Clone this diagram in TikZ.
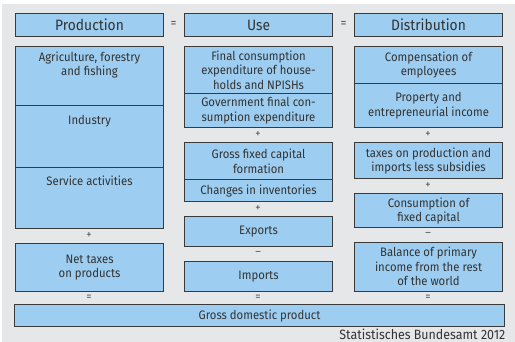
\documentclass[tikz,border=0pt]{standalone}
\usepackage{fontspec}
\setmainfont{Fira Sans}[FakeStretch=0.92]
\definecolor{bg}{HTML}{E6E7E8}
\definecolor{boxfill}{HTML}{9DCDF0}
\definecolor{boxline}{HTML}{3A3A3A}
\definecolor{txt}{HTML}{333333}
\definecolor{opc}{HTML}{555555}
\begin{document}
\begin{tikzpicture}[x=1pt,y=-1pt,
  box/.style={draw=boxline, fill=boxfill, line width=1.1pt, minimum width=148pt,
    inner sep=0pt, align=center, anchor=north west, text=txt,
    font=\fontsize{12.3}{14.5}\selectfont},
  head/.style={box, font=\fontsize{15}{17}\selectfont, minimum height=22.4pt},
  toptxt/.style={anchor=north, align=center, text=txt, inner sep=0pt,
    font=\fontsize{12.3}{14.5}\selectfont},
  op/.style={text=opc, inner sep=0pt, font=\fontsize{11.5}{11.5}\selectfont},
]
\useasboundingbox (0,0) rectangle (515,342);
\fill[bg] (2,4.5) rectangle (515,342);
% headers
\node[head] (hp) at (15,13.3) {Production};
\node[head] (hu) at (184,13.3) {Use};
\node[head] (hd) at (354,13.3) {Distribution};
\node[op, font=\fontsize{13}{13}\selectfont] (e1) at (173.5,24.5) {=};
\node[op, font=\fontsize{13}{13}\selectfont] (e2) at (343.5,24.5) {=};
% production
\node[box, minimum height=59.3pt] (agri) at (15,45.7) {};
\node[toptxt] (agrit) at ([yshift=-6pt]agri.north) {Agriculture, forestry\\and fishing};
\node[box, minimum height=61.7pt] (ind) at (15,105) {};
\node[toptxt] (indt) at ([yshift=-10pt]ind.north) {Industry};
\node[box, minimum height=61.6pt] (serv) at (15,166.7) {};
\node[toptxt] (servt) at ([yshift=-9pt]serv.north) {Service activities};
\node[op] (pp1) at (89,236) {+};
\node[box, minimum height=47.4pt] (ntax) at (15,243.3) {Net taxes\\on products};
\node[op] (pe) at (89,297.5) {=};
% use
\node[box, minimum height=47.6pt] (fc) at (184,45.7) {Final consumption\\expenditure of house-\\holds and NPISHs};
\node[box, minimum height=34pt] (gov) at (184,93.3) {Government final con-\\sumption expenditure};
\node[op] (up1) at (258,135) {+};
\node[box, minimum height=36.7pt] (gfcf) at (184,142.3) {Gross fixed capital\\formation};
\node[box, minimum height=22pt] (inv) at (184,179) {Changes in inventories};
\node[op] (up2) at (258,209) {+};
\node[box, minimum height=30pt] (exp) at (184,216) {Exports};
\node[op] (um) at (258,253) {–};
\node[box, minimum height=30pt] (imp) at (184,260.7) {Imports};
\node[op] (ue) at (258,297.5) {=};
% distribution
\node[box, minimum height=37.6pt] (comp) at (354,45.7) {Compensation of\\employees};
\node[box, minimum height=43.4pt] (prop) at (354,83.3) {Property and\\entrepreneurial income};
\node[op] (dp1) at (428,135) {+};
\node[box, minimum height=36pt] (tax) at (354,142.3) {taxes on production and\\imports less subsidies};
\node[op] (dp2) at (428,186) {+};
\node[box, minimum height=34pt] (cfc) at (354,193.3) {Consumption of\\fixed capital};
\node[op] (dm) at (428,234) {–};
\node[box, minimum height=49pt] (bal) at (354,241.7) {Balance of primary\\income from the rest\\of the world};
\node[op] (de) at (428,297.5) {=};
% GDP
\node[box, minimum width=490pt, minimum height=22pt] (gdp) at (14,304.3) {Gross domestic product};
\node[anchor=base east, inner sep=0pt, text=txt, font=\fontsize{13.5}{14}\selectfont] (src) at (505.5,339.5) {Statistisches Bundesamt 2012};
\end{tikzpicture}
\end{document}
